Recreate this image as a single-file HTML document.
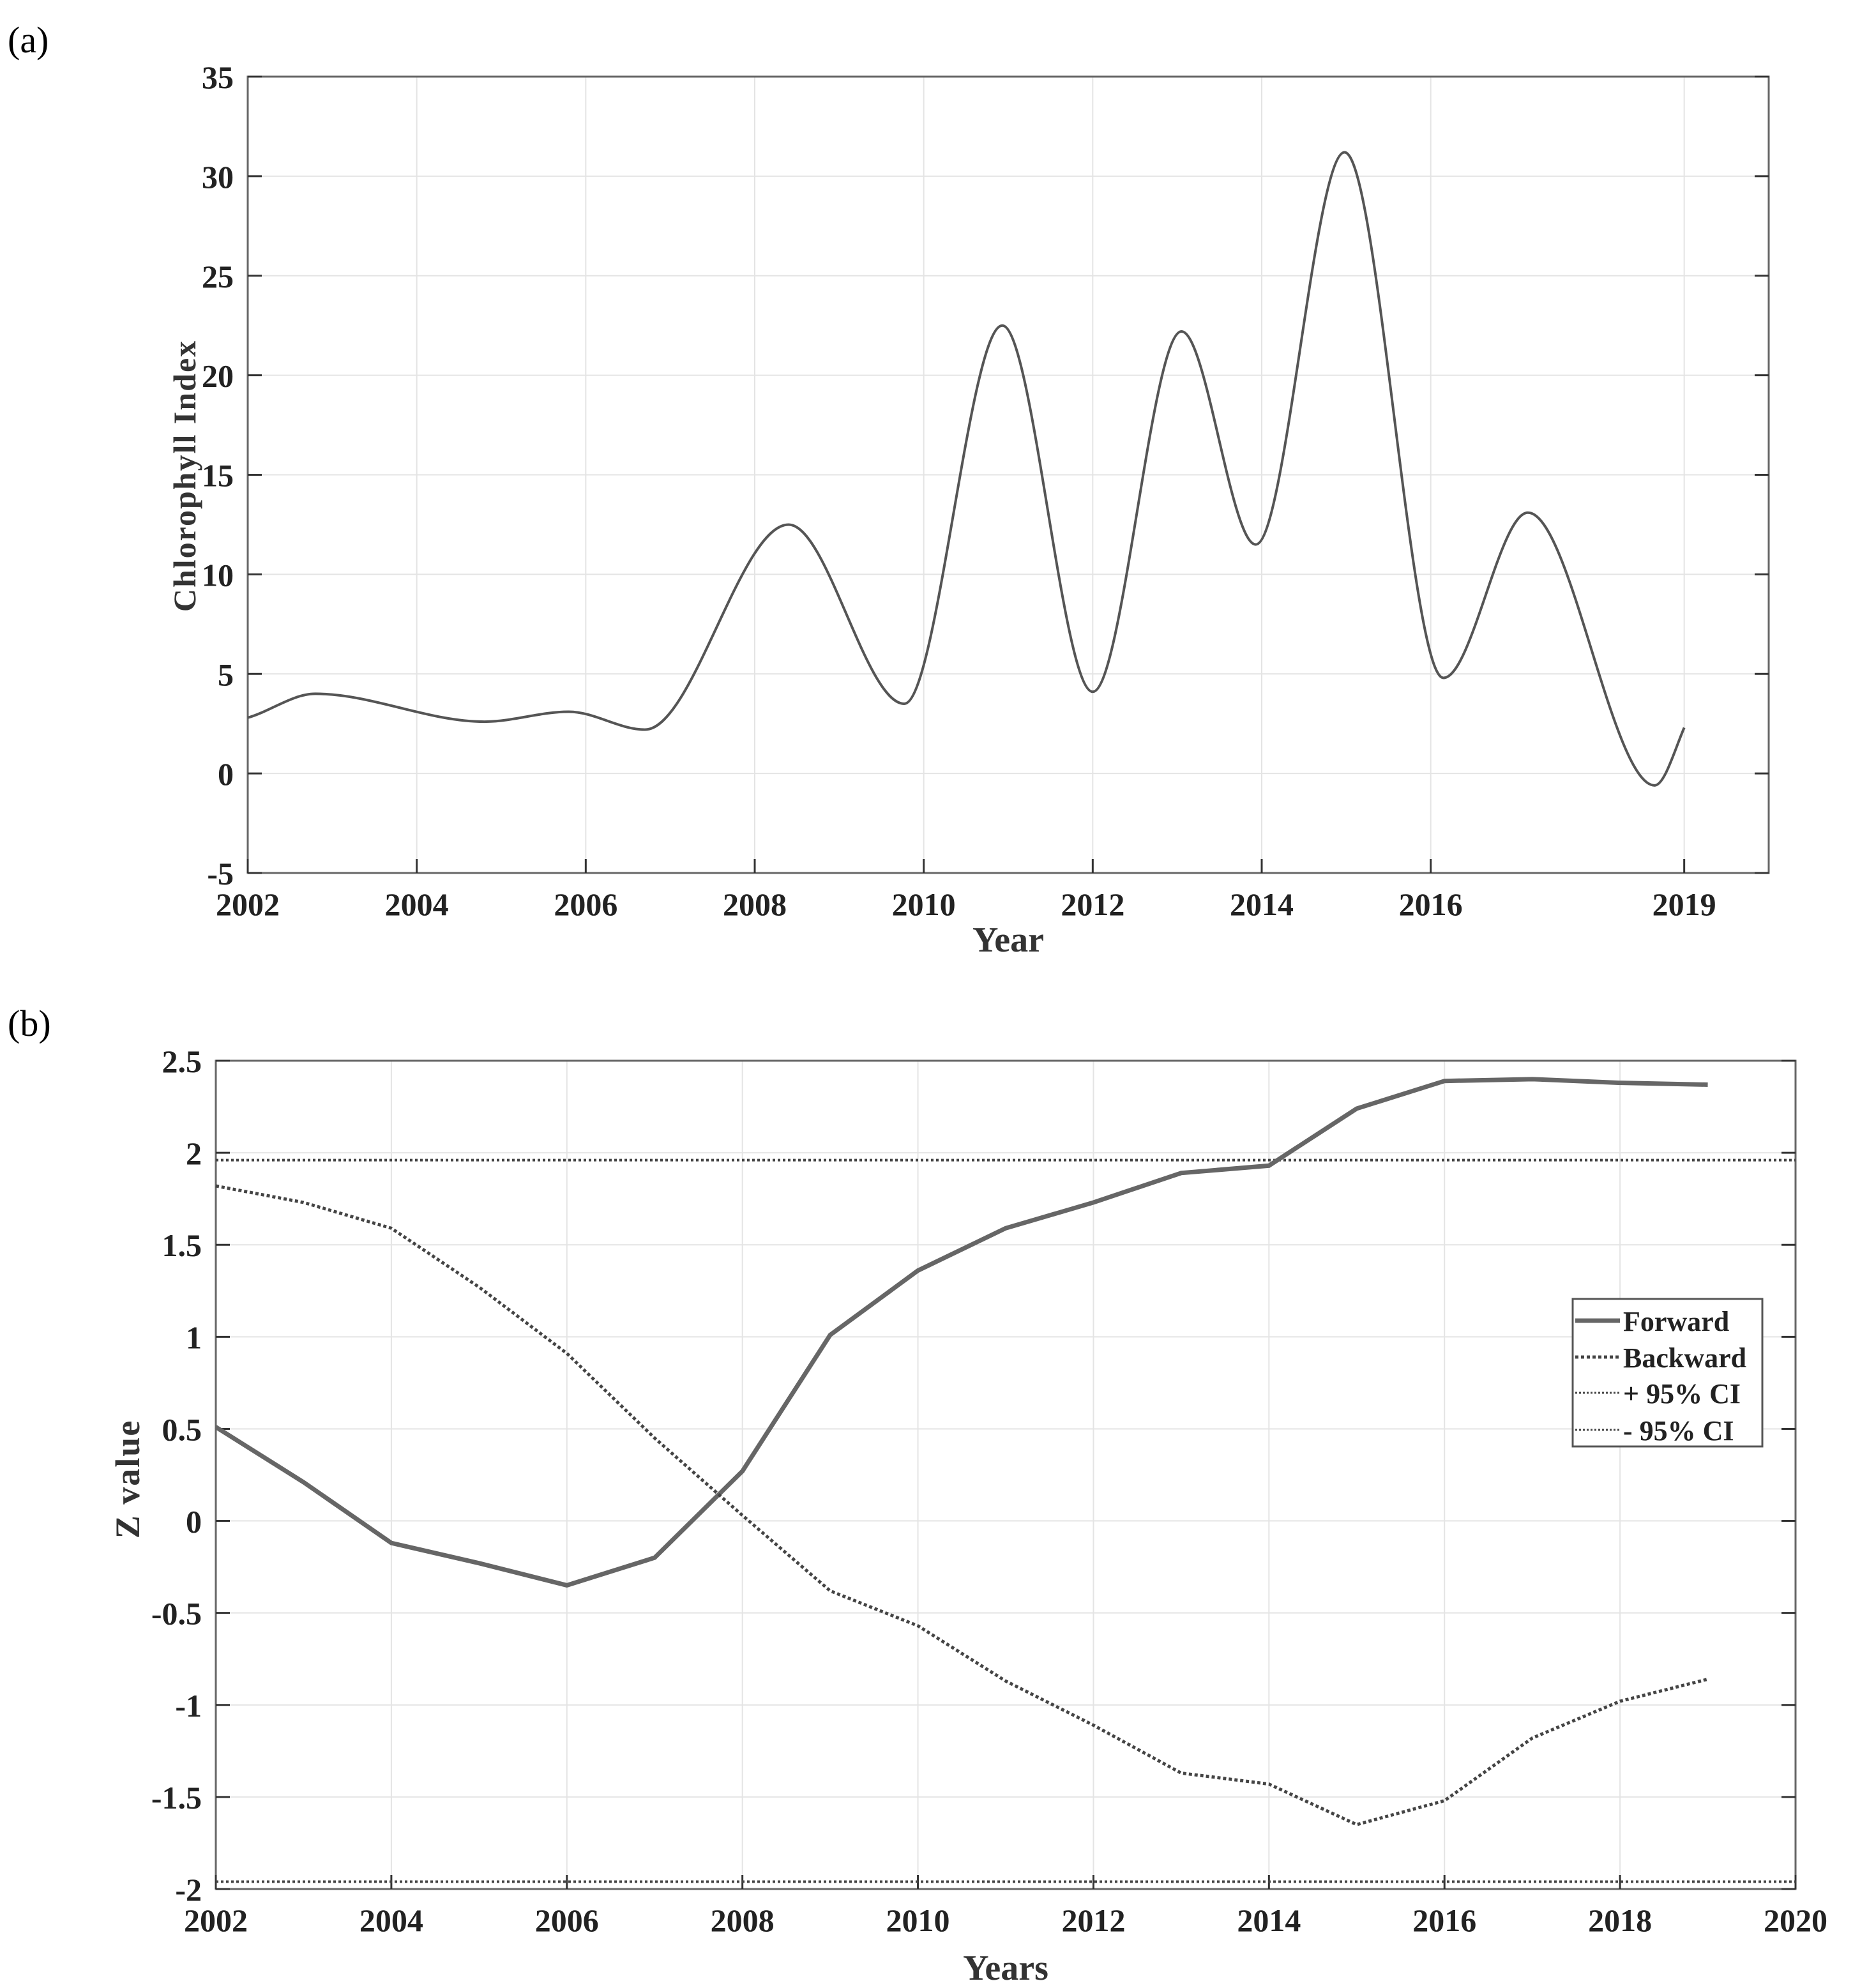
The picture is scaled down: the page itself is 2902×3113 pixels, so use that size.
<!DOCTYPE html>
<html><head><meta charset="utf-8"><style>
html,body{margin:0;padding:0;background:#fff;}
svg{display:block;font-family:"Liberation Serif","Times New Roman",serif;}
</style></head><body>
<svg id="chart" width="2902" height="3113" viewBox="0 0 2902 3113" xmlns="http://www.w3.org/2000/svg">
<text x="12" y="82" font-size="58">(a)</text>
<text x="12" y="1622" font-size="58">(b)</text>
<g id="pa"></g>
<g id="pb"></g>
</svg>
<script>
// Panel (a) data (local extrema of the smoothed series)
const aYears = [2002,2002.8,2004.8,2005.8,2006.7,2008.4,2009.77,2010.93,2012.0,2013.05,2013.93,2014.98,2016.15,2017.15,2018.65,2019];
const aValues = [2.8,4.0,2.6,3.1,2.2,12.5,3.5,22.5,4.1,22.2,11.5,31.2,4.8,13.1,-0.6,2.3];
const aXTicks = [2002,2004,2006,2008,2010,2012,2014,2016,2019];
const aYTicks = [-5,0,5,10,15,20,25,30,35];
// Panel (b) data
const bYears = [2002,2003,2004,2005,2006,2007,2008,2009,2010,2011,2012,2013,2014,2015,2016,2017,2018,2019];
const forward = [0.51,0.21,-0.12,-0.23,-0.35,-0.20,0.27,1.01,1.36,1.59,1.73,1.89,1.93,2.24,2.39,2.40,2.38,2.37];
const backward = [1.82,1.73,1.59,1.27,0.91,0.45,0.03,-0.38,-0.57,-0.87,-1.11,-1.37,-1.43,-1.65,-1.52,-1.18,-0.98,-0.86];
const ciValue = [1.96];
const bXTicks = [2002,2004,2006,2008,2010,2012,2014,2016,2018,2020];
const bYTicks = [-2,-1.5,-1,-0.5,0,0.5,1,1.5,2,2.5];

const NS="http://www.w3.org/2000/svg";
function mk(parent,tag,attrs,text){const e=document.createElementNS(NS,tag);for(const k in attrs)e.setAttribute(k,attrs[k]);if(text!==undefined)e.textContent=text;parent.appendChild(e);return e;}

function frame(g,L,R,T,B,xs,ys,xt,yt,pre){
  xt.forEach(v=>{const l=mk(g,'line',{x1:xs(v),x2:xs(v),y1:T,y2:B,stroke:'#e4e4e4','stroke-width':2});
    
    });
  yt.forEach(v=>{const l=mk(g,'line',{x1:L,x2:R,y1:ys(v),y2:ys(v),stroke:'#e4e4e4','stroke-width':2});
    
    });
  const r=mk(g,'rect',{x:L,y:T,width:R-L,height:B-T,fill:'none',stroke:'#666','stroke-width':3});
  
  
  xt.forEach(v=>{mk(g,'line',{x1:xs(v),x2:xs(v),y1:B,y2:B-22,stroke:'#333','stroke-width':3});
    const t=mk(g,'text',{x:xs(v),y:B+66,'font-size':50,'font-weight':'bold','text-anchor':'middle',fill:'#222'},String(v));
    
    });
  yt.forEach(v=>{mk(g,'line',{x1:L,x2:L+22,y1:ys(v),y2:ys(v),stroke:'#333','stroke-width':3});
    mk(g,'line',{x1:R,x2:R-22,y1:ys(v),y2:ys(v),stroke:'#333','stroke-width':3});
    const t=mk(g,'text',{x:L-22,y:ys(v)+18,'font-size':50,'font-weight':'bold','text-anchor':'end',fill:'#222'},String(v));
    
    });
}

// ---- Panel A
(function(){
  const g=document.getElementById('pa');
  const L=388,R=2770,T=120,B=1367;
  const xs=v=>L+(v-2002)/(2020-2002)*(R-L);
  const ys=v=>B-(v+5)/40*(B-T);
  frame(g,L,R,T,B,xs,ys,aXTicks,aYTicks,'a-');
  const P=aYears.map((y,i)=>[xs(y),ys(aValues[i])]);
  const n=P.length;
  // slopes: zero at interior extrema, secant at ends
  const m=P.map((p,i)=>{
    if(i===0) return 0.8*(P[1][1]-P[0][1])/(P[1][0]-P[0][0]);
    if(i===n-1) return 1.2*(P[n-1][1]-P[n-2][1])/(P[n-1][0]-P[n-2][0]);
    return 0;
  });
  let d='M'+P[0][0]+','+P[0][1];
  for(let i=0;i<n-1;i++){
    const h=P[i+1][0]-P[i][0];
    const c1=[P[i][0]+h/3,P[i][1]+m[i]*h/3];
    const c2=[P[i+1][0]-h/3,P[i+1][1]-m[i+1]*h/3];
    d+=' C'+c1[0]+','+c1[1]+' '+c2[0]+','+c2[1]+' '+P[i+1][0]+','+P[i+1][1];
  }
  const p=mk(g,'path',{d:d,fill:'none',stroke:'#555','stroke-width':4});
  
  
  const xl=mk(g,'text',{x:(L+R)/2,y:1490,'font-size':56,'font-weight':'bold','text-anchor':'middle',fill:'#333'},'Year');
  
  
  const yl=mk(g,'text',{x:0,y:0,'font-size':50,'font-weight':'bold','text-anchor':'middle',fill:'#333','letter-spacing':'2',transform:'translate(306,745) rotate(-90)'},'Chlorophyll Index');
  
  
})();

// ---- Panel B
(function(){
  const g=document.getElementById('pb');
  const L=338,R=2812,T=1661,B=2958;
  const xs=v=>L+(v-2002)/(2020-2002)*(R-L);
  const ys=v=>B-(v+2)/4.5*(B-T);
  frame(g,L,R,T,B,xs,ys,bXTicks,bYTicks,'b-');
  [ciValue[0],-ciValue[0]].forEach((c,i)=>{
    const l=mk(g,'line',{x1:L,x2:R,y1:ys(c),y2:ys(c),stroke:'#444','stroke-width':4,'stroke-dasharray':'4,4'});
    
    
  });
  const pf=mk(g,'polyline',{points:bYears.map((y,i)=>xs(y)+','+ys(forward[i])).join(' '),fill:'none',stroke:'#666','stroke-width':7});
  
  
  const pb=mk(g,'polyline',{points:bYears.map((y,i)=>xs(y)+','+ys(backward[i])).join(' '),fill:'none',stroke:'#444','stroke-width':5,'stroke-dasharray':'5,4'});
  
  
  const lg=mk(g,'g',{});
  
  
  mk(lg,'rect',{x:2463,y:2034,width:297,height:231,fill:'#fff',stroke:'#555','stroke-width':3});
  const items=[['Forward','#666',7,'none'],['Backward','#444',5,'5,4'],['+ 95% CI','#444',3,'3,3'],['- 95% CI','#444',3,'3,3']];
  const ly=[2068,2125,2181,2239];
  items.forEach((it,i)=>{
    mk(lg,'line',{x1:2467,x2:2537,y1:ly[i],y2:ly[i],stroke:it[1],'stroke-width':it[2],'stroke-dasharray':it[3]});
    const t=mk(lg,'text',{x:2542,y:ly[i]+16,'font-size':44,'font-weight':'bold',fill:'#222'},it[0]);
    
    
  });
  const xl=mk(g,'text',{x:(L+R)/2,y:3100,'font-size':56,'font-weight':'bold','text-anchor':'middle',fill:'#333'},'Years');
  
  
  const yl=mk(g,'text',{x:0,y:0,'font-size':54,'font-weight':'bold','text-anchor':'middle',fill:'#333','letter-spacing':'2',transform:'translate(218,2316) rotate(-90)'},'Z value');
  
  
})();
</script>
</body></html>
